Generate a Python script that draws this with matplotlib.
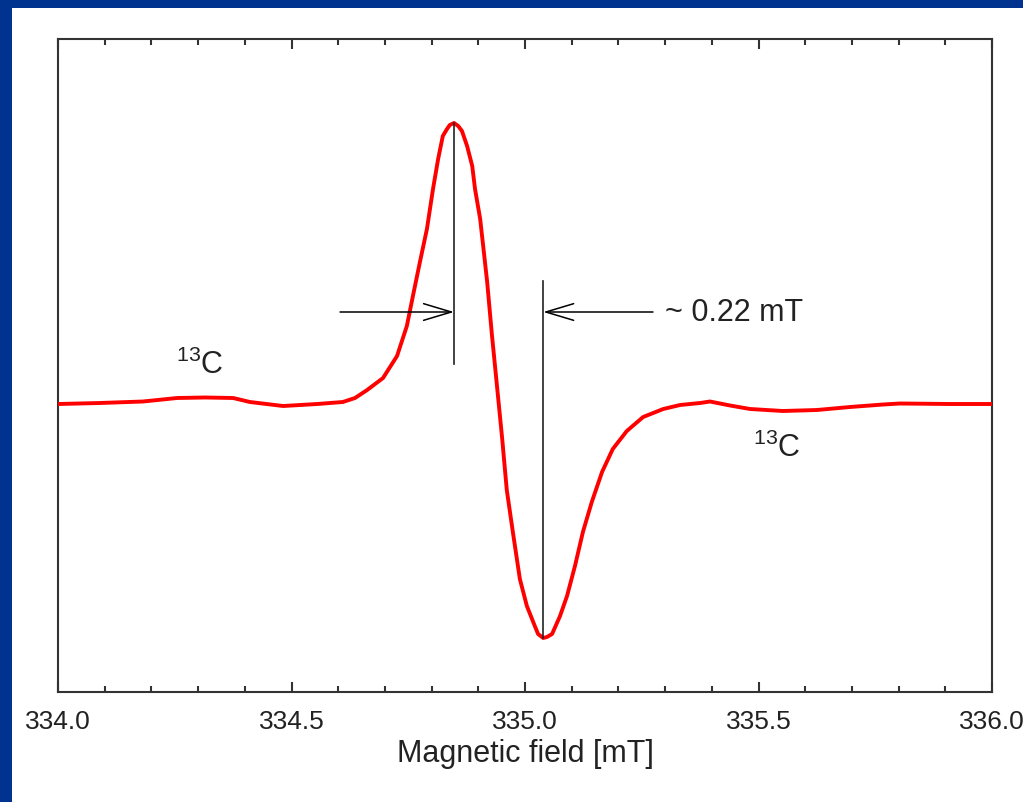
import matplotlib
matplotlib.use("Agg")
import matplotlib.pyplot as plt
from matplotlib.patches import Rectangle
from matplotlib.ticker import MultipleLocator

plt.rcParams['font.family'] = ['Liberation Sans', 'DejaVu Sans']
plt.rcParams['mathtext.default'] = 'regular'

# EPR spectrum: magnetic field (mT) and signal (arb. units)
field = [334.000, 334.090, 334.182, 334.255, 334.315, 334.375, 334.411, 334.482,
         334.555, 334.610, 334.636, 334.662, 334.696, 334.726, 334.747, 334.760,
         334.775, 334.790, 334.803, 334.814, 334.824, 334.833, 334.839, 334.848,
         334.857, 334.865, 334.876, 334.887, 334.893, 334.904, 334.919, 334.929,
         334.940, 334.951, 334.961, 334.974, 334.989, 335.004, 335.021, 335.028,
         335.039, 335.047, 335.058, 335.075, 335.090, 335.107, 335.124, 335.143,
         335.165, 335.188, 335.218, 335.253, 335.296, 335.332, 335.375, 335.396,
         335.439, 335.482, 335.552, 335.625, 335.696, 335.767, 335.803, 335.910,
         336.000]
signal = [0, 1, 2.5, 6, 6.5, 6, 2, -2,
          0, 2, 6, 14, 26, 48, 78, 108,
          142, 175, 215, 245, 268, 275, 279, 281,
          278, 273, 258, 238, 215, 185, 122, 70,
          18, -34, -86, -128, -175, -202, -222, -230,
          -234, -233, -230, -212, -192, -162, -128, -98,
          -68, -45, -27, -13, -5, -1, 1, 2.5,
          -1.5, -5, -7, -6, -3, -0.5, 0.5, 0,
          0]

# peak / trough positions used for the linewidth marker
peak_field = 334.848
peak_signal = 281
trough_field = 335.039
trough_signal = -234
width_label = "~ 0.22 mT"

tick_values = [334.0, 334.5, 335.0, 335.5, 336.0]
tick_labels = ["334.0", "334.5", "335.0", "335.5", "336.0"]

fig = plt.figure(figsize=(10.23, 8.03), dpi=100)
fig.patch.set_facecolor("#00338f")
# white slide panel inside the blue frame (behind the axes)
fig.patches.append(Rectangle((12 / 1023, 0), 1 - 12 / 1023, 1 - 9 / 803,
                             transform=fig.transFigure, facecolor="white",
                             edgecolor="none", zorder=-1))

ax = fig.add_axes([58 / 1023, 1 - 693 / 803, 934 / 1023, 653 / 803])
ax.set_zorder(2)
ax.set_facecolor("white")

ax.plot(field, signal, color="red", lw=2.8, zorder=3, solid_joinstyle="round")

# vertical markers at the extrema
ax.plot([peak_field, peak_field], [peak_signal, 40], color="#222222", lw=1.2, zorder=4)
ax.plot([trough_field, trough_field], [trough_signal, 123], color="#222222", lw=1.2, zorder=4)

# arrows pointing at the markers
arrow = dict(arrowstyle="->,head_length=1.0,head_width=0.3", color="black",
             lw=1.1, shrinkA=0, shrinkB=0, mutation_scale=20)
ax.annotate("", xy=(peak_field, 92), xytext=(334.604, 92), arrowprops=arrow)
ax.annotate("", xy=(trough_field, 92), xytext=(335.274, 92), arrowprops=arrow)
ax.text(335.300, 92, width_label, fontsize=22, va="center", ha="left", color="#222222")

# 13C satellite labels
ax.text(334.253, 40, "$^{13}$C", fontsize=22, va="center", ha="left", color="#222222")
ax.text(335.488, -43, "$^{13}$C", fontsize=22, va="center", ha="left", color="#222222")

ax.set_xlim(334.0, 336.0)
ax.set_ylim(-288, 365)
ax.set_xticks(tick_values)
ax.set_xticklabels(tick_labels, fontsize=19, color="#222222")
ax.xaxis.set_minor_locator(MultipleLocator(0.1))
ax.tick_params(axis="x", which="both", direction="in", top=True, bottom=True,
               width=1.5, color="#333333", pad=12)
ax.tick_params(axis="x", which="major", length=7)
ax.tick_params(axis="x", which="minor", length=4.5)
ax.set_yticks([])
for s in ax.spines.values():
    s.set_color("#333333")
    s.set_linewidth(1.5)

ax.set_xlabel("Magnetic field [mT]", fontsize=22, color="#222222", labelpad=4)

fig.savefig("out.png", dpi=100, facecolor=fig.get_facecolor())
